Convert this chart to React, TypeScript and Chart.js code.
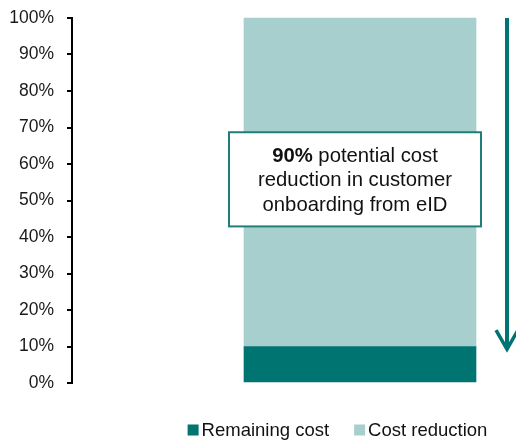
import React, { useEffect, useRef } from "react";
import { Chart, registerables } from "chart.js";

Chart.register(...registerables);

const categories = ["", "Customer onboarding"];
const remainingCost = [null, 10];
const costReduction = [null, 90];
const seriesLabels = ["Remaining cost", "Cost reduction"];
const seriesColors = ["#007470", "#a7cfce"];
const yTicks = { min: 0, max: 100, step: 10 };
const boxLines = [["90%", " potential cost"], ["", "reduction in customer"], ["", "onboarding from eID"]];
const boxRange = [68.7, 42.9];
const arrowRange = [100, 9];

const FONT = "'Liberation Sans', Arial, Helvetica, sans-serif";

const overlay = {
  id: "overlay",
  afterDatasetsDraw(chart: any) {
    const ctx = chart.ctx;
    const y = chart.scales.y;
    const bar = chart.getDatasetMeta(1).data[1];
    const bl = bar.x - bar.width / 2;
    const br = bar.x + bar.width / 2;
    ctx.save();
    // annotation box
    const bx1 = bl - 15, bx2 = br + 5;
    const by1 = y.getPixelForValue(boxRange[0]), by2 = y.getPixelForValue(boxRange[1]);
    ctx.fillStyle = "#ffffff";
    ctx.fillRect(bx1, by1, bx2 - bx1, by2 - by1);
    ctx.strokeStyle = "#1f7e7a";
    ctx.lineWidth = 2;
    ctx.strokeRect(bx1, by1, bx2 - bx1, by2 - by1);
    const cx = (bx1 + bx2) / 2;
    const cy = (by1 + by2) / 2 + 1.5;
    const lh = 24.5;
    const fs = 20.3;
    ctx.textBaseline = "middle";
    ctx.fillStyle = "#111111";
    boxLines.forEach((ln, i) => {
      const ty = cy + (i - 1) * lh;
      ctx.font = `bold ${fs}px ${FONT}`;
      const w0 = ctx.measureText(ln[0]).width;
      ctx.font = `${fs}px ${FONT}`;
      const w1 = ctx.measureText(ln[1]).width;
      const x = cx - (w0 + w1) / 2;
      ctx.textAlign = "left";
      ctx.font = `bold ${fs}px ${FONT}`;
      ctx.fillText(ln[0], x, ty);
      ctx.font = `${fs}px ${FONT}`;
      ctx.fillText(ln[1], x + w0, ty);
    });
    // arrow
    const ax = br + 31;
    const ay1 = y.getPixelForValue(arrowRange[0]);
    const ay2 = y.getPixelForValue(arrowRange[1]);
    ctx.strokeStyle = seriesColors[0];
    ctx.lineWidth = 4;
    ctx.lineCap = "butt";
    ctx.beginPath();
    ctx.moveTo(ax, ay1);
    ctx.lineTo(ax, ay2 - 2);
    ctx.stroke();
    ctx.lineWidth = 3.5;
    ctx.lineJoin = "miter";
    ctx.beginPath();
    ctx.moveTo(ax - 11, ay2 - 20);
    ctx.lineTo(ax, ay2 - 1);
    ctx.lineTo(ax + 11, ay2 - 20);
    ctx.stroke();
    // legend
    const lfs = 18.5;
    ctx.font = `${lfs}px ${FONT}`;
    ctx.textBaseline = "middle";
    ctx.textAlign = "left";
    const sq = 11, gap = 3, itemGap = 25;
    const widths = seriesLabels.map((t) => ctx.measureText(t).width);
    const total = widths.reduce((a, w) => a + sq + gap + w, 0) + itemGap * (seriesLabels.length - 1);
    let lx = 337.5 - total / 2;
    const ly = 430;
    seriesLabels.forEach((t, i) => {
      ctx.fillStyle = seriesColors[i];
      ctx.fillRect(lx, ly - sq / 2, sq, sq);
      ctx.fillStyle = "#111111";
      ctx.fillText(t, lx + sq + gap, ly + 1);
      lx += sq + gap + widths[i] + itemGap;
    });
    ctx.restore();
  },
};

export default function App() {
  const ref = useRef<HTMLCanvasElement>(null);
  useEffect(() => {
    const chart = new Chart(ref.current as HTMLCanvasElement, {
      type: "bar",
      data: {
        labels: categories,
        datasets: [
          { label: seriesLabels[0], data: remainingCost as any, backgroundColor: seriesColors[0], barThickness: 232, clip: false as any },
          { label: seriesLabels[1], data: costReduction as any, backgroundColor: seriesColors[1], barThickness: 232, clip: false as any },
        ],
      },
      options: {
        animation: false,
        responsive: false,
        devicePixelRatio: 1,
        layout: { padding: { top: 18, bottom: 58, left: 0, right: 60 } },
        plugins: { legend: { display: false }, tooltip: { enabled: false } },
        scales: {
          x: { display: false, stacked: true, offset: true },
          y: {
            stacked: true,
            min: yTicks.min,
            max: yTicks.max,
            afterFit: (s: any) => { s.width = 72; s.paddingTop = 0; s.paddingBottom = 0; },
            border: { display: true, color: "#000000", width: 2 },
            grid: { drawOnChartArea: false, tickLength: 5, color: "#000000", lineWidth: 2 },
            ticks: {
              stepSize: yTicks.step,
              padding: 13,
              color: "#1a1a1a",
              font: { family: FONT, size: 17.5 },
              callback: (v: any) => `${v}%`,
            },
          },
        },
      },
      plugins: [overlay],
    });
    return () => chart.destroy();
  }, []);
  return (
    <div style={{ position: "fixed", left: 0, top: 0, width: 516, height: 441, background: "#fff" }}>
      <canvas ref={ref} width={516} height={441} />
    </div>
  );
}
